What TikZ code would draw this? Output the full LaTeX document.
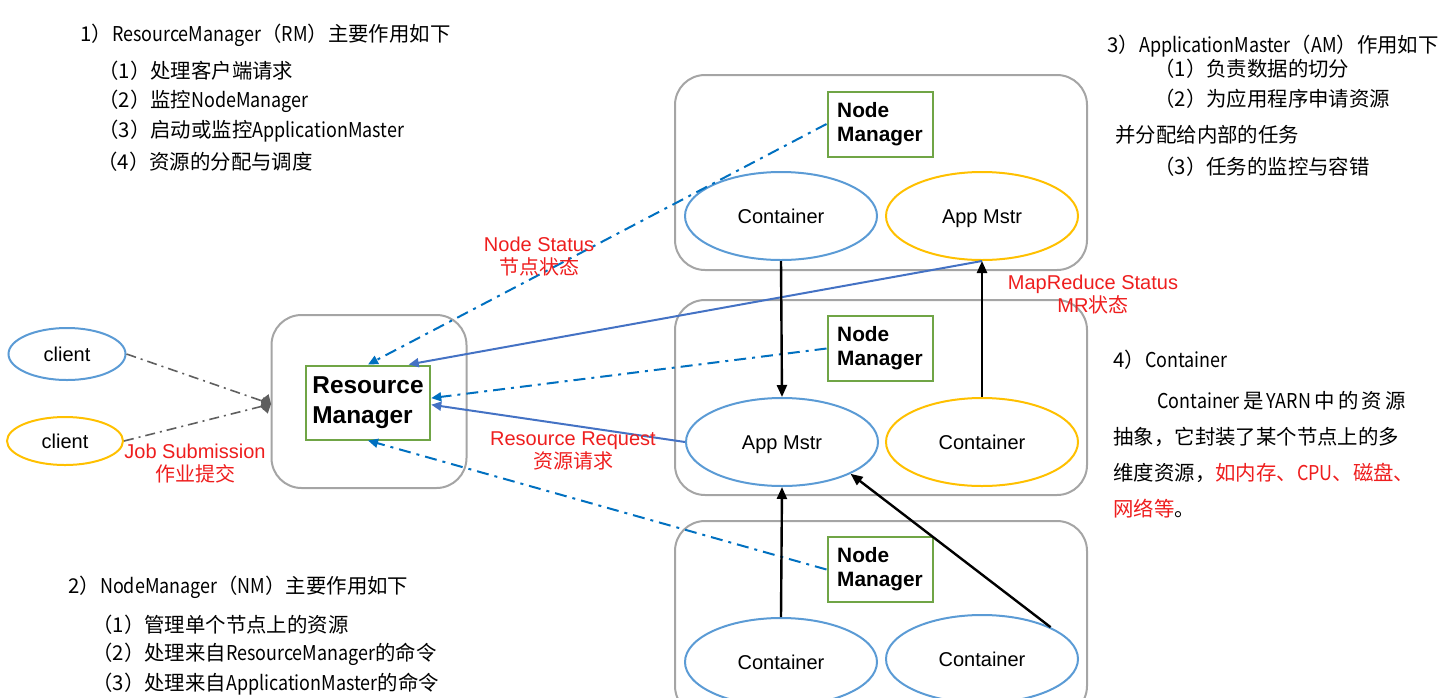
\documentclass[tikz,border=0pt]{standalone}
\usepackage{fontspec}
\setmainfont{Liberation Sans}
\newfontfamily\cjk{Noto Sans CJK SC}
\newfontfamily\lat[FakeStretch=0.88]{Noto Sans CJK SC}
\usetikzlibrary{shapes.geometric,arrows.meta}

\definecolor{ellblue}{RGB}{91,155,213}
\definecolor{ellgold}{RGB}{255,192,0}
\definecolor{nmgreen}{RGB}{112,165,70}
\definecolor{boxgray}{RGB}{165,165,165}
\definecolor{dashblue}{RGB}{0,112,192}
\definecolor{lineblue}{RGB}{68,114,196}
\definecolor{jobgray}{RGB}{95,95,95}
\definecolor{labelred}{RGB}{238,30,30}

\tikzset{
	server/.style={draw=boxgray, line width=1pt, rounded corners=15pt},
	bluecell/.style={ellipse, draw=ellblue, line width=1pt, minimum width=96pt, minimum height=44pt, text height=7.2pt, text depth=0pt, font=\fontsize{10}{12}\selectfont},
	goldcell/.style={bluecell, draw=ellgold},
	nmbox/.style={draw=nmgreen, line width=1pt, minimum width=52.5pt, minimum height=32.5pt, align=left, font=\bfseries\fontsize{10.4}{12}\selectfont},
	redlabel/.style={text=labelred, align=center, inner sep=0pt, font=\fontsize{10}{11.5}\selectfont},
	note/.style={anchor=west, inner sep=0pt, font=\cjk\fontsize{10.2}{12}\selectfont},
	status/.style={-{Triangle[length=5pt,width=4.5pt]}, draw=dashblue, line width=1pt, dash pattern=on 6pt off 3pt on 1.5pt off 3pt},
	request/.style={-{Triangle[length=5pt,width=4.5pt]}, draw=lineblue, line width=1pt},
	launch/.style={-{Triangle[length=6pt,width=5pt]}, line width=1.2pt},
	submit/.style={-{Diamond[length=5.5pt,width=8.5pt]}, draw=jobgray, line width=0.8pt, dash pattern=on 5pt off 2.5pt on 1pt off 2.5pt}
}
\newcommand{\gap}{\hspace{1.6pt}}

\begin{document}
\begin{tikzpicture}[x=0.5pt,y=-0.5pt]
	\useasboundingbox (0,0) rectangle (1446,697);

	% servers
	\node[server, minimum width=206pt, minimum height=97.5pt] (srvtop) at (881,172.5) {};
	\node[server, minimum width=206pt, minimum height=97.5pt] (srvmid) at (881,397.5) {};
	\node[server, minimum width=206pt, minimum height=97.5pt] (srvbot) at (881,618.5) {};
	\node[server, minimum width=97.5pt, minimum height=86.5pt] (rmbox) at (369,401.5) {};

	\node[draw=nmgreen, line width=1pt, minimum width=61pt, minimum height=37pt, align=left,
		font=\bfseries\fontsize{12.2}{15}\selectfont] (rm) at (368,402.5) {Resource\\Manager};

	\node[nmbox] (nmtop) at (880,124) {Node\\Manager};
	\node[nmbox] (nmmid) at (880,348.5) {Node\\Manager};
	\node[nmbox] (nmbot) at (880,569.5) {Node\\Manager};

	\node[bluecell] (conttop) at (781,216) {Container};
	\node[goldcell] (amtop) at (982,216) {App Mstr};
	\node[bluecell] (ammid) at (782,442) {App Mstr};
	\node[goldcell] (contmid) at (982,442) {Container};
	\node[bluecell] (contbl) at (781,662) {Container};
	\node[bluecell] (contbr) at (982,659) {Container};

	% clients
	\node[ellipse, draw=ellblue, line width=1pt, minimum width=58.5pt, minimum height=26pt] (clienta) at (67,354) {client};
	\node[ellipse, draw=ellgold, line width=1pt, minimum width=58pt, minimum height=24pt] (clientb) at (65,441) {client};
	\coordinate (jobin) at (271,404);

	% connectors
	\draw[submit] (clienta.east) -- (jobin);
	\draw[submit] (clientb.east) -- (jobin);
	\draw[status] (nmtop.west) -- (rm.north);
	\draw[status] (nmmid.west) -- (rm.4);
	\draw[status] (nmbot.west) -- (rm.south);
	\draw[request] (amtop.south) -- (rm.43);
	\draw[request] (ammid.west) -- (rm.-2);
	\draw[launch] (conttop.south) -- (ammid.north);
	\draw[launch] (contmid.north) -- (amtop.south);
	\draw[launch] (contbl.north) -- (ammid.south);
	\draw[launch] (contbr.north east) -- (ammid.south east);

	% red labels
	\node[redlabel] (joblbl) at (195,464) {Job Submission\\{\cjk 作业提交}};
	\node[redlabel] (nslbl) at (539,257) {Node Status\\{\cjk 节点状态}};
	\node[redlabel] (rrlbl) at (573,451) {Resource Request\\{\cjk 资源请求}};
	\node[redlabel] (mrlbl) at (1093,295) {MapReduce Status\\MR{\cjk 状态}};

	% notes
	\node[note] (rmhead) at (80,35) {1）{\lat ResourceManager}（{\lat RM}）主要作用如下};
	\node[note] (rmi) at (98,71) {（1）处理客户端请求};
	\node[note] (rmii) at (98,101) {（2）监控{\lat NodeManager}};
	\node[note] (rmiii) at (98,131) {（3）启动或监控{\lat ApplicationMaster}};
	\node[note] (rmiv) at (97,162) {（4）资源的分配与调度};

	\node[note] (nmhead) at (68,587) {2）{\lat NodeManager}（{\lat NM}）主要作用如下};
	\node[note] (nmi) at (92,625) {（1）管理单个节点上的资源};
	\node[note] (nmii) at (92,654) {（2）处理来自{\lat ResourceManager}的命令};
	\node[note] (nmiii) at (92,684) {（3）处理来自{\lat ApplicationMaster}的命令};

	\node[note] (amhead) at (1107,46) {3）{\lat ApplicationMaster}（{\lat AM}）作用如下};
	\node[note] (ami) at (1154,69) {（1）负责数据的切分};
	\node[note] (amii) at (1154,99) {（2）为应用程序申请资源};
	\node[note] (amiia) at (1115,135) {并分配给内部的任务};
	\node[note] (amiii) at (1154,167) {（3）任务的监控与容错};

	\node[note] (cthead) at (1113,360) {4）{\lat Container}};
	\node[note] (cti) at (1157,401) {{\lat Container}\gap 是\gap{\lat YARN}\gap 中\gap 的\gap 资\gap 源};
	\node[note] (ctii) at (1113,437) {抽象，它封装了某个节点上的多};
	\node[note] (ctiii) at (1113,473) {维度资源，\textcolor{labelred}{如内存、{\lat CPU}、磁盘、}};
	\node[note] (ctiv) at (1113,509) {\textcolor{labelred}{网络等}。};
\end{tikzpicture}
\end{document}
